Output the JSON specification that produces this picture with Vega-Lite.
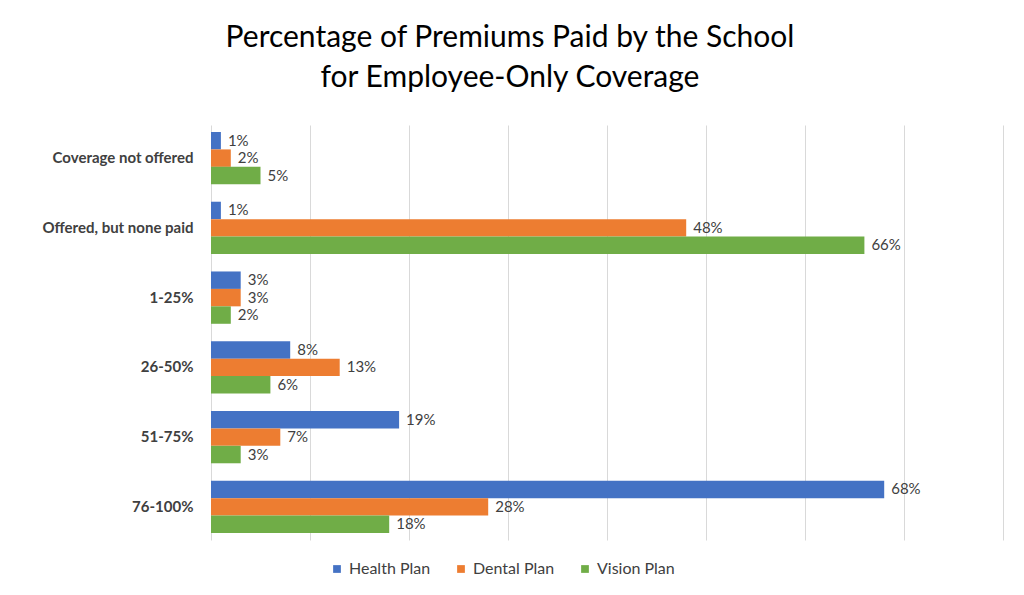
{
  "$schema": "https://vega.github.io/schema/vega-lite/v6.json",
  "width": 792,
  "height": 415,
  "autosize": {"type": "none"},
  "padding": {"left": 211, "top": 125, "right": 21, "bottom": 55},
  "background": "white",
  "title": {
    "text": ["Percentage of Premiums Paid by the School", "for Employee-Only Coverage"],
    "font": "Lato",
    "fontSize": 30,
    "fontWeight": "normal",
    "color": "black",
    "lineHeight": 40,
    "anchor": "middle",
    "dx": -97,
    "offset": 32
  },
  "config": {"view": {"stroke": null}, "font": "Lato"},
  "data": {
    "values": [
      {"cat": "Coverage not offered", "plan": "Health Plan", "v": 1},
      {"cat": "Coverage not offered", "plan": "Dental Plan", "v": 2},
      {"cat": "Coverage not offered", "plan": "Vision Plan", "v": 5},
      {"cat": "Offered, but none paid", "plan": "Health Plan", "v": 1},
      {"cat": "Offered, but none paid", "plan": "Dental Plan", "v": 48},
      {"cat": "Offered, but none paid", "plan": "Vision Plan", "v": 66},
      {"cat": "1-25%", "plan": "Health Plan", "v": 3},
      {"cat": "1-25%", "plan": "Dental Plan", "v": 3},
      {"cat": "1-25%", "plan": "Vision Plan", "v": 2},
      {"cat": "26-50%", "plan": "Health Plan", "v": 8},
      {"cat": "26-50%", "plan": "Dental Plan", "v": 13},
      {"cat": "26-50%", "plan": "Vision Plan", "v": 6},
      {"cat": "51-75%", "plan": "Health Plan", "v": 19},
      {"cat": "51-75%", "plan": "Dental Plan", "v": 7},
      {"cat": "51-75%", "plan": "Vision Plan", "v": 3},
      {"cat": "76-100%", "plan": "Health Plan", "v": 68},
      {"cat": "76-100%", "plan": "Dental Plan", "v": 28},
      {"cat": "76-100%", "plan": "Vision Plan", "v": 18}
    ]
  },
  "encoding": {
    "y": {
      "field": "cat",
      "type": "nominal",
      "sort": ["Coverage not offered", "Offered, but none paid", "1-25%", "26-50%", "51-75%", "76-100%"],
      "title": null,
      "scale": {"paddingInner": 0.25, "paddingOuter": 0.1},
      "axis": {"domain": false, "ticks": false, "labelFontSize": 15, "labelFontWeight": "bold", "labelColor": "#404040", "labelPadding": 18}
    },
    "yOffset": {
      "field": "plan",
      "type": "nominal",
      "sort": ["Health Plan", "Dental Plan", "Vision Plan"]
    },
    "x": {
      "field": "v",
      "type": "quantitative",
      "title": null,
      "scale": {"domain": [0, 80]},
      "axis": {"values": [0, 10, 20, 30, 40, 50, 60, 70, 80], "labels": false, "ticks": false, "domain": false, "grid": true, "gridColor": "#d9d9d9"}
    }
  },
  "layer": [
    {
      "mark": {"type": "bar"},
      "encoding": {
        "color": {
          "field": "plan",
          "type": "nominal",
          "title": null,
          "scale": {"domain": ["Health Plan", "Dental Plan", "Vision Plan"], "range": ["#4472C4", "#ED7D31", "#70AD47"]},
          "legend": {
            "orient": "none",
            "legendX": 118,
            "legendY": 436,
            "direction": "horizontal",
            "symbolType": "square",
            "symbolSize": 60,
            "labelFontSize": 16,
            "labelColor": "#404040",
            "columnPadding": 22
          }
        }
      }
    },
    {
      "transform": [{"calculate": "datum.v + '%'", "as": "lbl"}],
      "mark": {"type": "text", "align": "left", "dx": 7, "fontSize": 15, "color": "#404040"},
      "encoding": {
        "text": {"field": "lbl", "type": "nominal"},
        "detail": {"field": "plan"}
      }
    }
  ]
}
